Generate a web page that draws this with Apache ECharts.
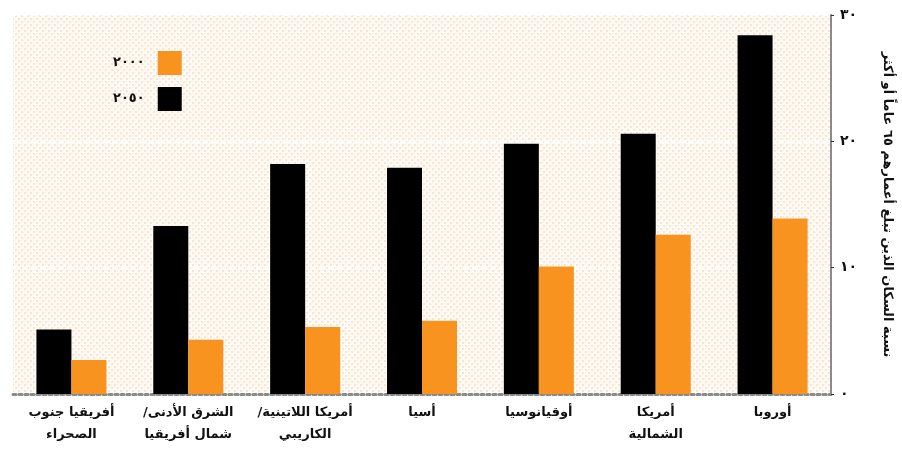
<!DOCTYPE html>
<html><head><meta charset="utf-8">
<script src="https://cdn.jsdelivr.net/npm/echarts@6/dist/echarts.min.js"></script>
<style>html,body{margin:0;padding:0;background:#fff}#c{width:902px;height:452px}</style>
</head><body><div id="c"></div>
<script>
const categories = ['أفريقيا جنوب\nالصحراء', 'الشرق الأدنى/\u200F\nشمال أفريقيا', 'أمريكا اللاتينية/\u200F\nالكاريبي', 'أسيا', 'أوقيانوسيا', 'أمريكا\nالشمالية', 'أوروبا'];
const seriesNames = ['٢٠٠٠', '٢٠٥٠'];
const values2000 = [2.7, 4.3, 5.3, 5.8, 10.1, 12.6, 13.9];
const values2050 = [5.1, 13.3, 18.2, 17.9, 19.8, 20.6, 28.4];
const yTickValues = [0, 10, 20, 30];
const yTickLabels = ['٠', '١٠', '٢٠', '٣٠'];
const yAxisTitle = 'نسبة السكان الذين تبلغ أعمارهم ٦٥ عاماً أو أكثر';

const font = 'DejaVu Sans';
const pc = document.createElement('canvas');
pc.width = 6; pc.height = 6;
const g = pc.getContext('2d');
g.fillStyle = '#fffcf6'; g.fillRect(0,0,6,6);
g.fillStyle = '#fae2d6';
g.fillRect(0,0,2,2); g.fillRect(3,3,2,2);
g.fillStyle = '#f8eedf';
g.fillRect(3,0,1,1); g.fillRect(0,3,1,1);

const chart = echarts.init(document.getElementById('c'));
chart.setOption({
  animation: false,
  backgroundColor: '#ffffff',
  textStyle: { fontFamily: font },
  grid: { left: 13, right: 67, top: 15, bottom: 58, show: true, backgroundColor: { image: pc, repeat: 'repeat' }, borderWidth: 0 },
  legend: {
    data: seriesNames,
    orient: 'vertical',
    left: 108, top: 46,
    align: 'right',
    itemWidth: 24, itemHeight: 24, itemGap: 12,
    icon: 'rect',
    textStyle: { fontFamily: font, fontWeight: 'bold', fontSize: 13, color: '#111', padding: [0, 8, 0, 0] }
  },
  xAxis: {
    type: 'category',
    data: categories,
    axisLine: { lineStyle: { color: '#8a8a8a', width: 3, type: 'dotted' } },
    axisTick: { show: false },
    axisLabel: { fontFamily: font, fontWeight: 'bold', fontSize: 13, color: '#111', lineHeight: 22, margin: 8, interval: 0 }
  },
  yAxis: {
    type: 'value',
    position: 'right',
    min: 0, max: 30, interval: 10,
    name: yAxisTitle,
    nameLocation: 'middle',
    nameRotate: -90,
    nameGap: 50,
    nameTextStyle: { fontFamily: font, fontWeight: 'bold', fontSize: 13, color: '#111' },
    axisLine: { show: true, lineStyle: { color: '#8a8a8a', width: 2 } },
    axisTick: { show: true, length: 3, lineStyle: { color: '#333' } },
    axisLabel: { fontFamily: font, fontWeight: 'bold', fontSize: 14, color: '#111', margin: 9,
      formatter: v => yTickLabels[yTickValues.indexOf(v)] },
    splitLine: { show: true, lineStyle: { color: '#ffffff', width: 1.5, type: 'dashed' } }
  },
  series: [
    { name: seriesNames[1], type: 'bar', data: values2050, barWidth: 35, barGap: '0%', itemStyle: { color: '#000000' } },
    { name: seriesNames[0], type: 'bar', data: values2000, barWidth: 35, barGap: '0%', itemStyle: { color: '#f7931e' } }
  ]
});
</script></body></html>
